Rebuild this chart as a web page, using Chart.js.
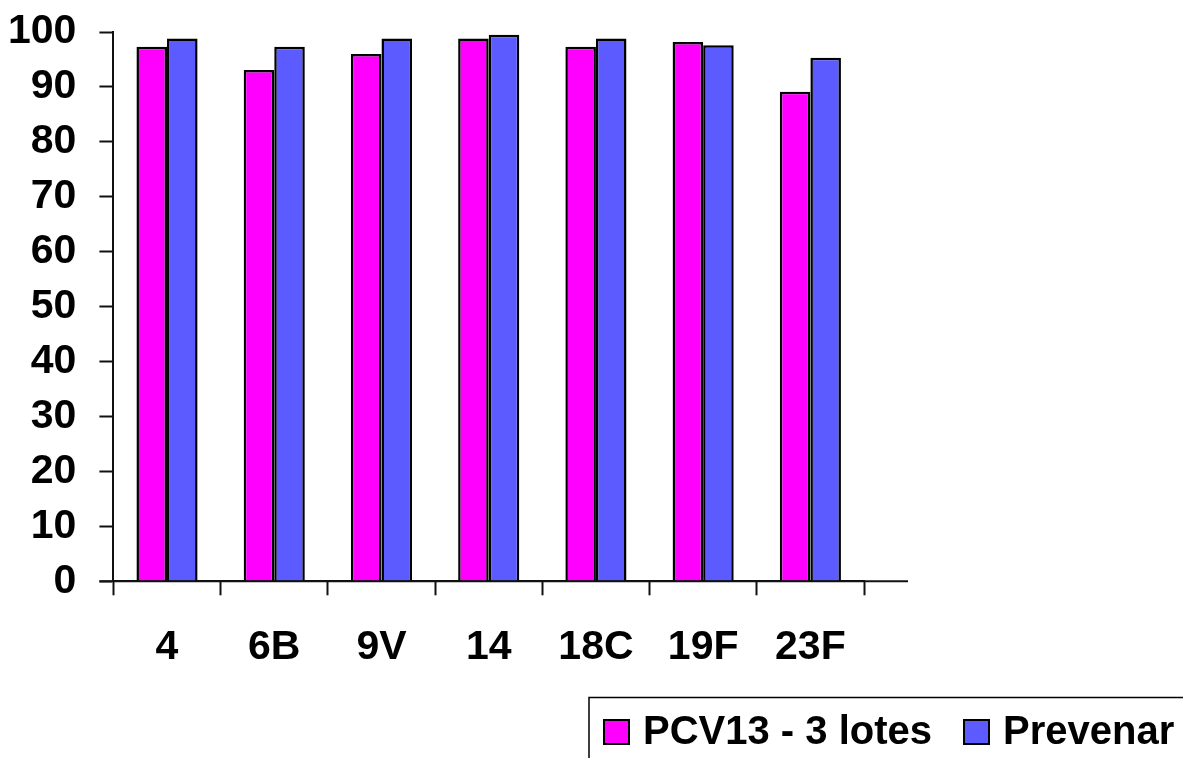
<!DOCTYPE html>
<html>
<head>
<meta charset="utf-8">
<title>PCV13 - 3 lotes / Prevenar</title>
<script src="https://cdn.jsdelivr.net/npm/chart.js@4.4.1/dist/chart.umd.min.js"></script>
<style>
  html, body { margin: 0; padding: 0; background: #ffffff; }
  #wrap { width: 1183px; height: 758px; position: relative; }
</style>
</head>
<body>
<div id="wrap"><canvas id="chart" width="1183" height="758"></canvas></div>
<script>
// Serotypes on the category axis
const serotypes = ['4', '6B', '9V', '14', '18C', '19F', '23F'];
// Percentage of responders per serotype
const pcv13Values = [97.3, 93.1, 96.0, 98.8, 97.3, 98.2, 89.1];
const prevenarValues = [98.8, 97.3, 98.8, 99.5, 98.8, 97.6, 95.3];
// Value axis ticks
const yTicks = [0, 10, 20, 30, 40, 50, 60, 70, 80, 90, 100];
const seriesNames = ['PCV13 - 3 lotes', 'Prevenar'];

const FONT_FAMILY = '"Liberation Sans", Arial, Helvetica, sans-serif';
const AXIS_COLOR = '#111111';

// Extends the category axis line past the last category and draws a framed legend
const framePlugin = {
  id: 'framePlugin',
  afterDraw(chart) {
    const ctx = chart.ctx;
    const area = chart.chartArea;
    ctx.save();
    ctx.strokeStyle = AXIS_COLOR;
    ctx.lineWidth = 2;
    ctx.beginPath();
    ctx.moveTo(area.left - 14, area.bottom);
    ctx.lineTo(area.right + 44, area.bottom);
    ctx.stroke();

    // legend frame (runs off the lower-right edge of the canvas)
    ctx.lineWidth = 1.5;
    ctx.strokeStyle = '#000';
    ctx.strokeRect(589, 697.5, 620, 100);

    const slots = [603, 963];
    ctx.font = 'bold 40px ' + FONT_FAMILY;
    ctx.textBaseline = 'middle';
    chart.data.datasets.forEach((ds, i) => {
      const x = slots[i];
      ctx.fillStyle = ds.backgroundColor;
      ctx.fillRect(x, 719, 27, 26);
      ctx.lineWidth = 2;
      ctx.strokeStyle = '#000';
      ctx.strokeRect(x + 1, 720, 25, 24);
      ctx.fillStyle = '#000';
      ctx.fillText(ds.label, x + 40, 733);
    });
    ctx.restore();
  }
};

new Chart(document.getElementById('chart'), {
  type: 'bar',
  data: {
    labels: serotypes,
    datasets: [
      {
        label: seriesNames[0],
        data: pcv13Values,
        backgroundColor: '#FF00FF',
        borderColor: '#000000',
        borderWidth: 2.5,
        categoryPercentage: 0.57,
        barPercentage: 1.0
      },
      {
        label: seriesNames[1],
        data: prevenarValues,
        backgroundColor: '#5B5BFF',
        borderColor: '#000000',
        borderWidth: 2.5,
        categoryPercentage: 0.57,
        barPercentage: 1.0
      }
    ]
  },
  options: {
    responsive: false,
    animation: false,
    devicePixelRatio: 1,
    layout: {
      padding: { top: 32, left: -15, right: 319, bottom: 57.5 }
    },
    plugins: {
      legend: { display: false },
      tooltip: { enabled: false },
      title: { display: false }
    },
    scales: {
      x: {
        grid: {
          display: true,
          offset: true,
          drawOnChartArea: false,
          drawTicks: true,
          tickLength: 14,
          tickWidth: 2,
          tickColor: AXIS_COLOR
        },
        border: { display: true, color: AXIS_COLOR, width: 2 },
        ticks: {
          color: '#000',
          padding: 28,
          maxRotation: 0,
          autoSkip: false,
          font: { family: FONT_FAMILY, size: 41, weight: 'bold' }
        }
      },
      y: {
        min: 0,
        max: 100,
        afterBuildTicks(scale) {
          scale.ticks = yTicks.map(v => ({ value: v }));
        },
        grid: {
          display: true,
          drawOnChartArea: false,
          drawTicks: true,
          tickLength: 14,
          tickWidth: 2,
          tickColor: AXIS_COLOR
        },
        border: { display: true, color: AXIS_COLOR, width: 2 },
        ticks: {
          color: '#000',
          padding: 23,
          font: { family: FONT_FAMILY, size: 41, weight: 'bold', lineHeight: 0.4 }
        }
      }
    }
  },
  plugins: [framePlugin]
});
</script>
</body>
</html>
